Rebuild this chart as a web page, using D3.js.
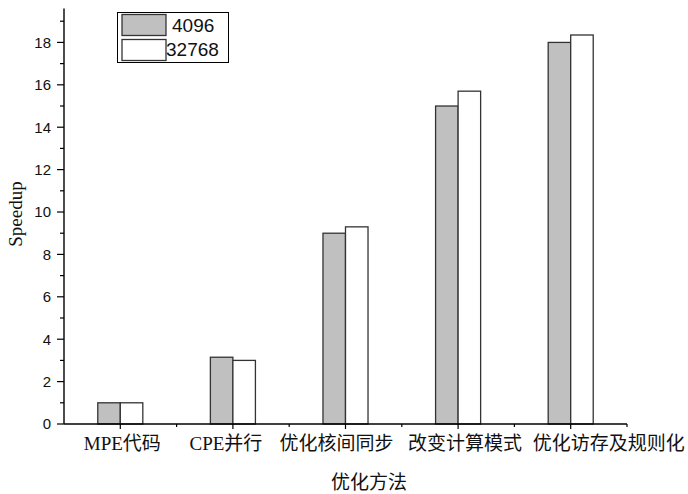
<!DOCTYPE html>
<html>
<head>
<meta charset="utf-8">
<script src="https://cdn.jsdelivr.net/npm/d3@7"></script>
<style>
  html, body { margin: 0; padding: 0; background: #fff; }
  svg { display: block; }
</style>
</head>
<body>
<svg id="chart" width="688" height="494"></svg>
<script>
// Optimisation steps and measured speedups for two problem sizes
const categories = ["MPE代码", "CPE并行", "优化核间同步", "改变计算模式", "优化访存及规则化"];
const seriesNames = ["4096", "32768"];
const speedup4096 = [1.0, 3.15, 9.0, 15.0, 18.0];
const speedup32768 = [1.0, 3.0, 9.3, 15.7, 18.35];
const yTicks = [0, 2, 4, 6, 8, 10, 12, 14, 16, 18];
const yMinorTicks = [1, 3, 5, 7, 9, 11, 13, 15, 17, 19];
const xTitle = "优化方法";
const yTitle = "Speedup";

const series = [
  { name: seriesNames[0], values: speedup4096, fill: "#c0c0c0" },
  { name: seriesNames[1], values: speedup32768, fill: "#ffffff" }
];

const svg = d3.select("#chart");
const plotLeft = 64, plotRight = 627, plotBottom = 424, plotTop = 8.5;

const x = d3.scaleBand().domain(categories).range([plotLeft, plotRight]).padding(0);
const y = d3.scaleLinear().domain([0, 19.6]).range([plotBottom, plotTop]);
const barW = x.bandwidth() * 0.2;

// bars: first series left of the category centre, second series right of it
series.forEach((s, si) => {
  svg.append("g").selectAll("rect")
    .data(s.values)
    .join("rect")
    .attr("x", (d, i) => x(categories[i]) + x.bandwidth() / 2 + (si - 1) * barW)
    .attr("y", d => y(d))
    .attr("width", barW)
    .attr("height", d => y(0) - y(d))
    .attr("fill", s.fill)
    .attr("stroke", "#333")
    .attr("stroke-width", 1.3);
});

// y axis with major and minor ticks
const yAxis = svg.append("g").attr("transform", `translate(${plotLeft},0)`);
yAxis.append("line")
  .attr("x1", 0).attr("x2", 0).attr("y1", y.range()[1]).attr("y2", plotBottom)
  .attr("stroke", "#000").attr("stroke-width", 1.4);
yAxis.selectAll(".maj").data(yTicks).join("line")
  .attr("x1", -7).attr("x2", 0).attr("y1", d => y(d)).attr("y2", d => y(d))
  .attr("stroke", "#000").attr("stroke-width", 1.2);
yAxis.selectAll(".min").data(yMinorTicks).join("line")
  .attr("x1", -4).attr("x2", 0).attr("y1", d => y(d)).attr("y2", d => y(d))
  .attr("stroke", "#000").attr("stroke-width", 1.2);
yAxis.selectAll("text").data(yTicks).join("text")
  .attr("x", -13).attr("y", d => y(d)).attr("dy", "0.36em")
  .attr("text-anchor", "end")
  .attr("font-family", "Liberation Sans, Arial, sans-serif")
  .attr("font-size", 15).attr("fill", "#111")
  .text(d => d);

// x axis: major ticks at category centres, minor ticks at boundaries
const xAxis = svg.append("g").attr("transform", `translate(0,${plotBottom})`);
xAxis.append("line")
  .attr("x1", plotLeft).attr("x2", plotRight).attr("y1", 0).attr("y2", 0)
  .attr("stroke", "#000").attr("stroke-width", 1.4);
xAxis.selectAll(".maj").data(categories).join("line")
  .attr("x1", d => x(d) + x.bandwidth() / 2).attr("x2", d => x(d) + x.bandwidth() / 2)
  .attr("y1", 0).attr("y2", 5)
  .attr("stroke", "#000").attr("stroke-width", 1.2);
xAxis.selectAll(".min").data(categories).join("line")
  .attr("x1", d => x(d) + x.bandwidth()).attr("x2", d => x(d) + x.bandwidth())
  .attr("y1", 0).attr("y2", 3)
  .attr("stroke", "#000").attr("stroke-width", 1.2);

// category labels, nudged so the long names do not collide
const labelNudge = [2, -7, -9, 7, 38];
xAxis.selectAll("text").data(categories).join("text")
  .attr("x", (d, i) => x(d) + x.bandwidth() / 2 + labelNudge[i])
  .attr("y", 26)
  .attr("text-anchor", "middle")
  .attr("font-family", "Liberation Serif, 'Noto Sans CJK SC', serif")
  .attr("font-size", 19).attr("fill", "#111")
  .text(d => d);

// axis titles
svg.append("text")
  .attr("x", 369).attr("y", 489)
  .attr("text-anchor", "middle")
  .attr("font-family", "Liberation Serif, 'Noto Sans CJK SC', serif")
  .attr("font-size", 19).attr("fill", "#111")
  .text(xTitle);
svg.append("text")
  .attr("transform", "translate(22,214) rotate(-90)")
  .attr("text-anchor", "middle")
  .attr("font-family", "Liberation Serif, 'Times New Roman', serif")
  .attr("font-size", 19).attr("fill", "#111")
  .text(yTitle);

// legend
const legend = svg.append("g");
legend.append("rect")
  .attr("x", 117.5).attr("y", 12.5).attr("width", 111).attr("height", 50)
  .attr("fill", "#fff").attr("stroke", "#000").attr("stroke-width", 1);
const textX = [172, 166];
series.forEach((s, si) => {
  legend.append("rect")
    .attr("x", 122).attr("y", 14.5 + si * 25).attr("width", 44).attr("height", 21)
    .attr("fill", s.fill).attr("stroke", "#333").attr("stroke-width", 1.3);
  legend.append("text")
    .attr("x", textX[si]).attr("y", 32 + si * 23.5)
    .attr("font-family", "Liberation Sans, Arial, sans-serif")
    .attr("font-size", 19).attr("fill", "#111")
    .text(s.name);
});
</script>
</body>
</html>
